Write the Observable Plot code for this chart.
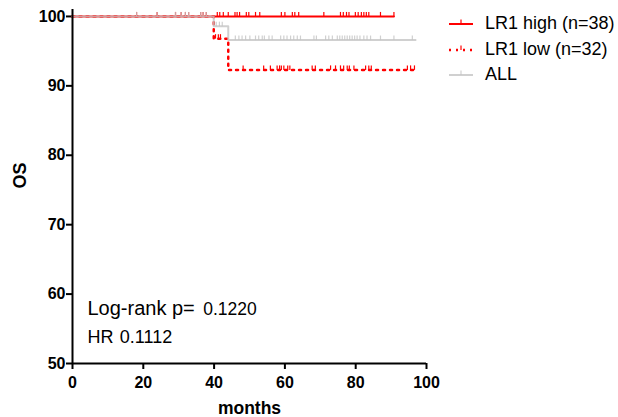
<!DOCTYPE html>
<html><head><meta charset="utf-8">
<script src="https://cdn.jsdelivr.net/npm/d3@7"></script>
<script src="https://cdn.jsdelivr.net/npm/@observablehq/plot@0.6"></script>
<style>
body{margin:0;background:#fff;font-family:Arial,"Liberation Sans",sans-serif;}
#wrap{position:relative;width:618px;height:417px;}
#legend{position:absolute;left:449px;top:11px;}
.row{height:25.7px;line-height:25.7px;font-size:18px;color:#000;white-space:nowrap;}
.row svg{vertical-align:top;display:inline-block;}
#chart svg{display:block;}
</style></head><body><div id="wrap"><div id="chart"></div><div id="legend"></div></div>
<script>
// ---- data ----
const xTicks = [0, 20, 40, 60, 80, 100];
const yTicks = [50, 60, 70, 80, 90, 100];
const groups = ["LR1 high (n=38)", "LR1 low (n=32)", "ALL"];

const highTime = [0, 90.8];
const highSurv = [100, 100];
const highCensor = [18.1, 23.9, 29.1, 30.7, 31.9, 32.8, 36.2, 36.9, 37.8,
  40.9, 41.6, 42.6, 44.0, 45.9, 46.5, 47.2, 49.1, 49.8, 51.7, 52.9, 59.0, 60.0,
  62.1, 62.8, 63.9, 71.0, 75.7, 76.5, 77.4, 78.1, 79.9, 80.7, 81.6, 82.3, 83.0,
  83.7, 87.0, 90.8];

const lowTime = [0, 39.9, 44.0, 96.9];
const lowSurv = [100, 96.8, 92.3, 92.3];
const lowCensor = [40.4, 41.2, 41.8, 48.2, 54.0, 55.9, 57.8, 58.5, 59.0, 59.7,
  60.8, 61.4, 67.7, 68.6, 72.9, 74.3, 75.7, 76.6, 77.6, 78.2, 79.5, 82.8, 83.7,
  84.4, 94.6, 95.5, 96.6];

const allTime = [0, 39.9, 44.0, 96.9];
const allSurv = [100, 98.6, 96.6, 96.6];
const allCensor = [18.1, 23.9, 29.1, 30.7, 31.9, 32.8, 36.2, 36.9, 37.8,
  40.6, 41.5, 42.3, 46.0, 47.0, 47.9, 48.9, 50.1, 51.7, 52.6, 53.6, 54.2, 55.5,
  56.4, 58.8, 59.7, 60.6, 61.6, 62.5, 63.5, 64.4, 68.2, 68.9, 71.5, 72.4, 73.4,
  74.8, 75.5, 76.2, 76.9, 77.6, 78.3, 79.0, 79.7, 80.4, 81.2, 82.3, 83.2, 84.2,
  87.0, 90.8, 96.0];

const annotLabel = ["Log-rank p=", "HR"];
const annotValue = ["0.1220", "0.1112"];

// ---- helpers ----
const RED = "#ff0000", GREY = "#c4c4c4";
const DOTS = "2,5";
function curve(t, s) { return t.map((x, i) => ({t: x, s: s[i]})); }
function censors(c, t, s) {
  return c.map(x => { let i = 0; for (let k = 0; k < t.length; k++) if (t[k] <= x) i = k; return {t: x, s: s[i]}; });
}
const tickSym = {draw(ctx) { ctx.moveTo(0, 0); ctx.lineTo(0, -4.5); }};
const FONT = "Arial, 'Liberation Sans', sans-serif";

const chart = Plot.plot({
  width: 618, height: 417,
  marginLeft: 72, marginRight: 192, marginTop: 9, marginBottom: 54,
  x: {domain: [0, 100]},
  y: {domain: [50, 101]},
  style: {fontFamily: FONT, background: "white", color: "#000"},
  marks: [
    Plot.axisY({ticks: yTicks, tickSize: 6, tickPadding: 1, fontSize: 16, fontWeight: "bold", strokeWidth: 2, stroke: "#000", fill: "#000", label: null}),
    Plot.axisX({ticks: xTicks, tickSize: 6, tickPadding: 7, fontSize: 16, fontWeight: "bold", strokeWidth: 2, stroke: "#000", fill: "#000", label: null}),
    Plot.line(curve(highTime, highSurv), {x: "t", y: "s", curve: "step-after", stroke: RED, strokeWidth: 2}),
    Plot.dot(censors(highCensor, highTime, highSurv), {x: "t", y: "s", symbol: tickSym, stroke: RED, strokeWidth: 1.2, fill: "none"}),
    Plot.line(curve(lowTime, lowSurv), {x: "t", y: "s", curve: "step-after", stroke: RED, strokeWidth: 2.5, strokeDasharray: DOTS}),
    Plot.dot(censors(lowCensor, lowTime, lowSurv), {x: "t", y: "s", symbol: tickSym, stroke: RED, strokeWidth: 1.2, fill: "none"}),
    Plot.line(curve(allTime, allSurv), {x: "t", y: "s", curve: "step-after", stroke: GREY, strokeOpacity: 0.8, strokeWidth: 2}),
    Plot.dot(censors(allCensor, allTime, allSurv), {x: "t", y: "s", symbol: tickSym, stroke: GREY, strokeOpacity: 0.8, strokeWidth: 1.2, fill: "none"}),
    Plot.ruleX([xTicks[0]], {stroke: "#000", strokeWidth: 2}),
    Plot.ruleY([yTicks[0]], {stroke: "#000", strokeWidth: 2}),
    Plot.text([annotLabel[0]], {frameAnchor: "bottom-left", dx: 15, dy: -48.7, lineAnchor: "bottom", textAnchor: "start", fontSize: 20}),
    Plot.text([annotValue[0]], {frameAnchor: "bottom-left", dx: 130.7, dy: -48.7, lineAnchor: "bottom", textAnchor: "start", fontSize: 17.5}),
    Plot.text([annotLabel[1]], {frameAnchor: "bottom-left", dx: 15, dy: -20.3, lineAnchor: "bottom", textAnchor: "start", fontSize: 18}),
    Plot.text([annotValue[1]], {frameAnchor: "bottom-left", dx: 47.3, dy: -20.3, lineAnchor: "bottom", textAnchor: "start", fontSize: 18}),
    Plot.text(["OS"], {frameAnchor: "left", dx: -52, dy: 2, rotate: -90, fontSize: 18, fontWeight: "bold"}),
    Plot.text(["months"], {frameAnchor: "bottom", dy: 50, lineAnchor: "bottom", fontSize: 17.5, fontWeight: "bold"})
  ]
});
document.getElementById("chart").appendChild(chart);

// ---- legend ----
const styles = [
  {stroke: RED, dash: null, w: 2, op: 1},
  {stroke: RED, dash: DOTS, w: 2.5, op: 1},
  {stroke: GREY, dash: null, w: 2, op: 0.8}
];
const leg = document.getElementById("legend");
groups.forEach((g, i) => {
  const st = styles[i];
  const row = document.createElement("div");
  row.className = "row";
  row.innerHTML = `<svg width="36" height="25.7"><line x1="0" x2="24" y1="13" y2="13" stroke="${st.stroke}" stroke-width="${st.w}" stroke-opacity="${st.op}" ${st.dash ? `stroke-dasharray="${st.dash}"` : ""}/>` +
    `<line x1="12" x2="12" y1="13" y2="8.5" stroke="${st.stroke}" stroke-width="1.2" stroke-opacity="${st.op}"/></svg>`;
  const span = document.createElement("span");
  span.textContent = g;
  row.appendChild(span);
  leg.appendChild(row);
});
</script>
</body></html>
